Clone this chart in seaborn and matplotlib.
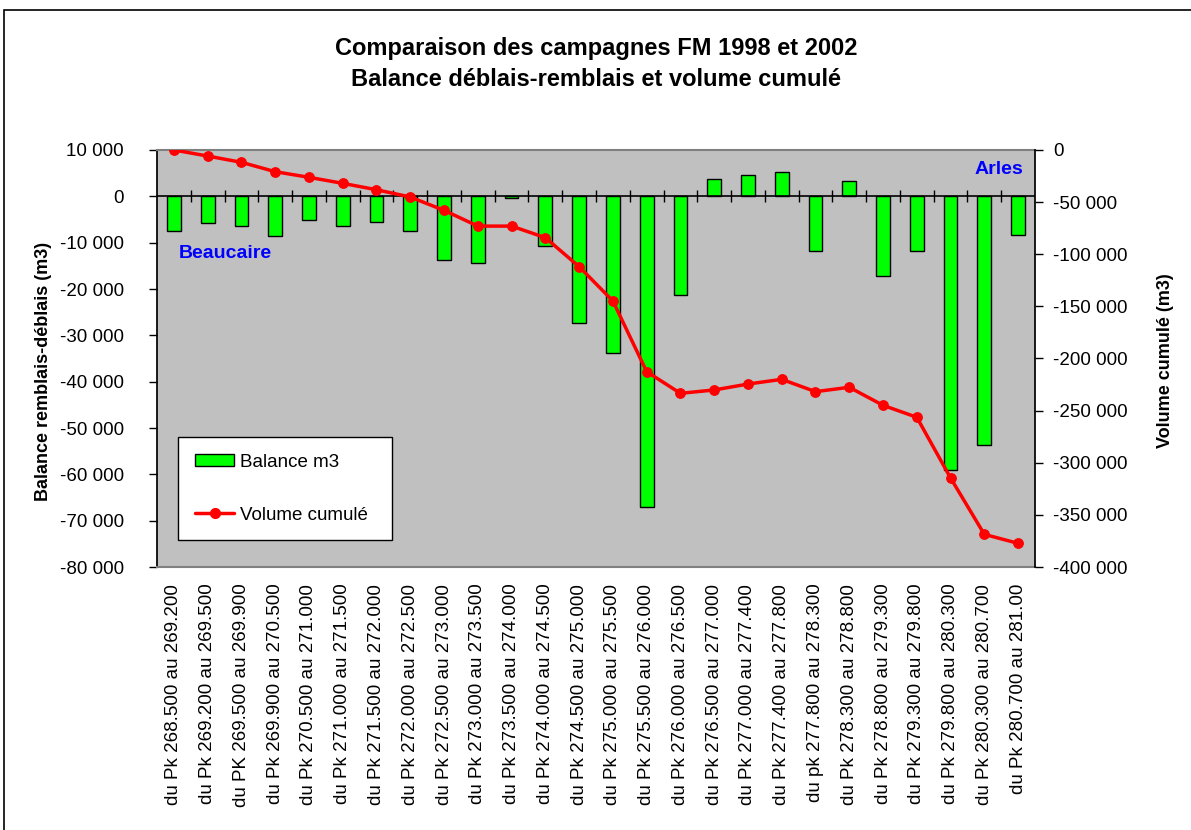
import numpy as np
import matplotlib
matplotlib.use("Agg")
import matplotlib.pyplot as plt
from matplotlib.patches import Patch, Rectangle
from matplotlib.lines import Line2D
from matplotlib.ticker import FuncFormatter, MultipleLocator
import seaborn as sns

# Tronçons (Pk) and values
troncons = [
    "du Pk 268.500 au 269.200", "du Pk 269.200 au 269.500", "du PK 269.500 au 269.900",
    "du Pk 269.900 au 270.500", "du Pk 270.500 au 271.000", "du Pk 271.000 au 271.500",
    "du Pk 271.500 au 272.000", "du Pk 272.000 au 272.500", "du Pk 272.500 au 273.000",
    "du Pk 273.000 au 273.500", "du Pk 273.500 au 274.000", "du Pk 274.000 au 274.500",
    "du Pk 274.500 au 275.000", "du Pk 275.000 au 275.500", "du Pk 275.500 au 276.000",
    "du Pk 276.000 au 276.500", "du Pk 276.500 au 277.000", "du Pk 277.000 au 277.400",
    "du Pk 277.400 au 277.800", "du pk 277.800 au 278.300", "du Pk 278.300 au 278.800",
    "du Pk 278.800 au 279.300", "du Pk 279.300 au 279.800", "du Pk 279.800 au 280.300",
    "du Pk 280.300 au 280.700", "du Pk 280.700 au 281.00",
]
balance_m3 = [-7400, -5800, -6500, -8500, -5200, -6500, -5500, -7400, -13700, -14400,
              -350, -10800, -27400, -33800, -67100, -21200, 3700, 4700, 5300, -11700,
              3400, -17300, -11700, -59000, -53700, -8400]
volume_cumule = [0, -5800, -11800, -20800, -26200, -32000, -38100, -45100, -57900, -73000,
                 -73000, -84100, -111900, -144800, -212600, -233400, -230200, -224500,
                 -220000, -231800, -227600, -244900, -256400, -314600, -368700, -377300]

sns.set_theme(style="white")
plt.rcParams["font.family"] = ["Liberation Sans", "DejaVu Sans"]
plt.rcParams["text.color"] = "black"
plt.rcParams["axes.labelcolor"] = "black"
plt.rcParams["xtick.color"] = "black"
plt.rcParams["ytick.color"] = "black"

W, H = 1191, 830
fig = plt.figure(figsize=(W / 100, H / 100), dpi=100)
ax = fig.add_axes([157 / W, 1 - 567 / H, 878 / W, 417 / H])
ax.set_facecolor("#C0C0C0")

sns.barplot(x=troncons, y=balance_m3, ax=ax, color="#00FF00", saturation=1,
            edgecolor="black", linewidth=1.0, width=0.41)

ax.set_xlim(-0.5, len(troncons) - 0.5)
ax.set_ylim(-80000, 10000)
ax.yaxis.set_major_locator(MultipleLocator(10000))
fmt = FuncFormatter(lambda v, p: f"{v:,.0f}".replace(",", " "))
ax.yaxis.set_major_formatter(fmt)
ax.set_xticks(range(len(troncons)))
ax.set_xticklabels(troncons, rotation=90, fontsize=13.5)
ax.tick_params(axis="x", length=0, pad=12, colors="black")
ax.tick_params(axis="y", direction="out", length=6, width=1, colors="black",
               labelsize=13.5, pad=18, left=True)
ax.set_xlabel("")
ax.set_ylabel("")

# category axis crossing at zero
ax.axhline(0, color="black", lw=1.2, zorder=1)
ax.vlines(np.arange(0.5, len(troncons) - 0.5), -1300, 1300, color="black", lw=1.0, zorder=1)

for s in ["top", "bottom"]:
    ax.spines[s].set_color("#808080")
    ax.spines[s].set_linewidth(1.5)
ax.spines["left"].set_color("black")
ax.spines["right"].set_visible(False)

ax2 = ax.twinx()
sns.lineplot(x=np.arange(len(troncons)), y=volume_cumule, ax=ax2, color="red",
             lw=2.5, marker="o", markersize=7, markeredgecolor="red")
ax2.set_ylim(-400000, 0)
ax2.yaxis.set_major_locator(MultipleLocator(50000))
ax2.yaxis.set_major_formatter(fmt)
ax2.tick_params(axis="y", direction="out", length=6, width=1, colors="black",
                labelsize=13.5, pad=7, right=True)
for s in ["top", "bottom", "left"]:
    ax2.spines[s].set_visible(False)
ax2.spines["right"].set_color("black")
ax2.set_ylabel("")

# labels
fig.text(44 / W, 1 - 371 / H, "Balance remblais-déblais (m3)", rotation=90,
         ha="center", va="center", fontsize=13, fontweight="bold")
fig.text(1166 / W, 1 - 361 / H, "Volume cumulé (m3)", rotation=90,
         ha="center", va="center", fontsize=13, fontweight="bold")
fig.text(596 / W, 1 - 48 / H, "Comparaison des campagnes FM 1998 et 2002",
         ha="center", va="center", fontsize=17, fontweight="bold")
fig.text(596 / W, 1 - 80 / H, "Balance déblais-remblais et volume cumulé",
         ha="center", va="center", fontsize=17, fontweight="bold")
fig.text(179 / W, 1 - 253 / H, "Beaucaire", color="#0000FF", ha="left", va="center",
         fontsize=14, fontweight="bold")
fig.text(1023 / W, 1 - 170 / H, "Arles", color="#0000FF", ha="right", va="center",
         fontsize=14, fontweight="bold")

handles = [Patch(facecolor="#00FF00", edgecolor="black", lw=1.0),
           Line2D([], [], color="red", lw=2.5, marker="o", markersize=7)]
leg = ax2.legend(handles, ["Balance m3", "Volume cumulé"], loc="upper left",
                 bbox_to_anchor=(178 / W, 0.2, 214 / W, 1 - 437 / H - 0.2),
                 bbox_transform=fig.transFigure, mode="expand", borderaxespad=0,
                 fontsize=13.5, handlelength=2.1, handleheight=0.6, labelspacing=1.9,
                 borderpad=0.9, handletextpad=0.3, fancybox=False, framealpha=1,
                 facecolor="white", edgecolor="black")
leg.get_frame().set_linewidth(1.0)

fig.add_artist(Rectangle((4 / W, -0.5), 2, 1 - 10 / H + 0.5, transform=fig.transFigure,
                         fill=False, edgecolor="black", lw=1.2))

fig.savefig("out.png", dpi=100)
